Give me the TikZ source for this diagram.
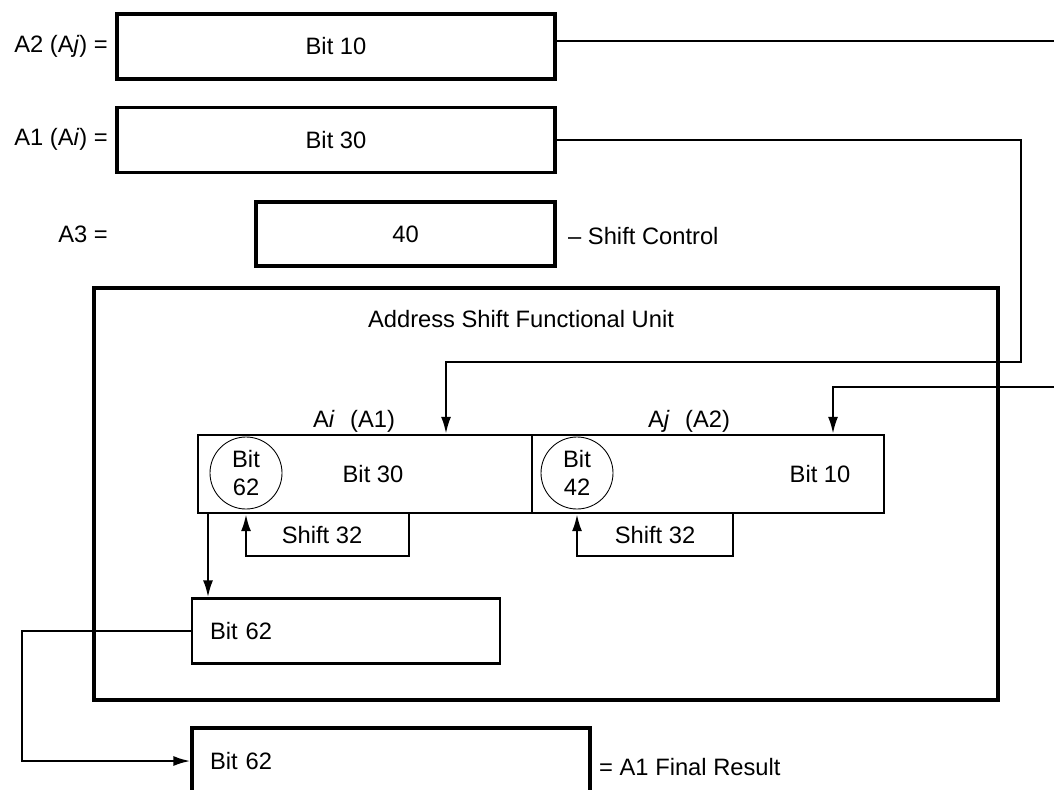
\documentclass[tikz,border=0pt]{standalone}
\usepackage{fontspec}
\setmainfont{Liberation Sans}
\usepackage{tikz}
\usetikzlibrary{shapes,arrows.meta,positioning,calc}

\begin{document}
\begin{tikzpicture}[x=0.2mm, y=-0.2mm,
        font=\fontsize{13.5}{16}\selectfont,
        regbox/.style={draw, line width=1.8pt, minimum width=87.6mm, minimum height=13mm},
        bitcirc/.style={draw, circle, line width=0.5pt, minimum size=14.4mm, inner sep=0pt, align=center},
        wire/.style={line width=1.3pt},
        arr/.style={wire, -{Latex[length=3.4mm,width=2mm]}}]
        \useasboundingbox (0,0) rectangle (1054,789);
        \clip (0,0) rectangle (1054,789);

        % Registers A2, A1, A3
        \node[regbox] (a2) at (336,46.5) {Bit 10};
        \node[anchor=east] (a2lab) at (114,46) {A2 (A\textit{j}) =};
        \node[regbox] (a1) at (336,140) {Bit 30};
        \node[anchor=east] (a1lab) at (114,139) {A1 (A\textit{i}) =};
        \node[regbox, minimum width=59.8mm, minimum height=12.8mm] (a3) at (405.5,234) {40};
        \node[anchor=east] (a3lab) at (114,234) {A3 =};
        \node[anchor=west] (ctl) at (562,236) {-- Shift Control};

        % Functional unit
        \node[draw, line width=2pt, minimum width=180.8mm, minimum height=82.4mm] (unit) at (546,494) {};
        \node (unitlab) at (521,319) {Address Shift Functional Unit};
        \node[draw, wire, minimum width=66.8mm, minimum height=15.6mm] (regi) at (365,474) {};
        \node[draw, wire, minimum width=70.4mm, minimum height=15.6mm] (regj) at (708,474) {};
        \node (ilab) at (354,421) {A\textit{i}\hspace{0.65em}(A1)};
        \node (jlab) at (689,421) {A\textit{j}\hspace{0.65em}(A2)};
        \node[bitcirc] (c62) at (246,473) {Bit\\62};
        \node (b30) at (373,474) {Bit 30};
        \node[bitcirc] (c42) at (577,473) {Bit\\42};
        \node (b10) at (820,474) {Bit 10};
        \node (sh1) at (322,535) {Shift 32};
        \node (sh2) at (655,535) {Shift 32};
        \node[draw, wire, minimum height=13mm, text width=54.4mm, inner xsep=3.6mm, align=left] (b62) at (346,631) {Bit 62};

        % Result
        \node[draw, line width=1.8pt, minimum height=13.2mm, text width=72.4mm, inner xsep=3.6mm, align=left] (final) at (391,761) {Bit 62};
        \node[anchor=west] (reslab) at (593,767) {= A1 Final Result};

        \coordinate (aiturn) at (1021,362);
        \coordinate (aidrop) at (446,362);
        \coordinate (ajout) at (1090,41);
        \coordinate (ajin) at (1090,387);
        \coordinate (ajdrop) at (833,387);
        \draw[arr] (a1.east) -| (aiturn) -- (aidrop) -- (aidrop |- regi.north);
        \draw[arr] (a2.east |- ajout) -- (ajout) -- (ajin) -- (ajdrop) -- (ajdrop |- regj.north);

        \coordinate (s1) at (409,556);
        \coordinate (s2) at (733,556);
        \draw[arr] (s1 |- regi.south) -- (s1) -| (c62.south |- regi.south);
        \draw[arr] (s2 |- regj.south) -- (s2) -| (c42.south |- regj.south);

        \coordinate (drop) at (208,560);
        \draw[arr] (drop |- regi.south) -- (drop |- b62.north);
        \coordinate (back) at (22,700);
        \draw[arr] (b62.west) -| (back) |- (final.west);
    \end{tikzpicture}
\end{document}
